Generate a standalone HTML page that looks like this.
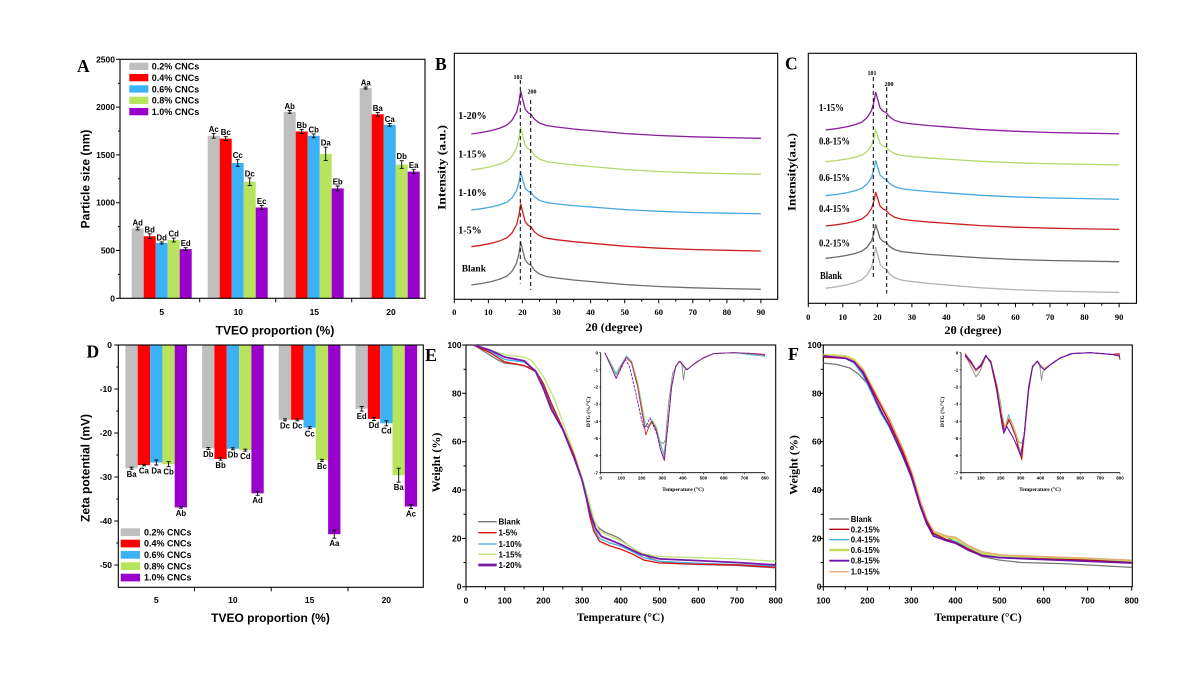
<!DOCTYPE html>
<html><head><meta charset="utf-8"><style>
html,body{margin:0;padding:0;background:#fff}
svg{display:block}
.s{font-family:"Liberation Sans",sans-serif;font-weight:bold}
.r{font-family:"Liberation Serif",serif;font-weight:bold}
.ns path,.ns polyline{vector-effect:non-scaling-stroke;fill:none}
</style></head><body>
<svg width="1200" height="675" viewBox="0 0 1200 675" xmlns="http://www.w3.org/2000/svg">
<defs>
<path id="x" fill="none" style="vector-effect:non-scaling-stroke" d="M0,0 L10.2,-1.5 L20.4,-3.5 L29,-6 L35.8,-9 L40.9,-14 L45.3,-22 L47.7,-32 L49.4,-43 L51.1,-36 L53.8,-25 L57.2,-21 L59.6,-20 L63,-15 L68.1,-11 L75,-8.5 L85.2,-7 L102.2,-5 L119.2,-3.5 L136.3,-2 L153.3,-0.5 L187.4,1.5 L221.5,2.8 L255.6,3.6 L289.6,4.3"/>
</defs>
<rect width="1200" height="675" fill="#fff"/>

<!-- ================= PANEL A ================= -->
<text class="r" x="77" y="72" font-size="17.5">A</text>
<g>
<rect x="131.7" y="228.5" width="12" height="69.8" fill="#bfbfbf"/>
<rect x="143.7" y="236.2" width="12" height="62.1" fill="#ff0000"/>
<rect x="155.7" y="242.9" width="12" height="55.4" fill="#3db1f5"/>
<rect x="167.7" y="240.0" width="12" height="58.3" fill="#b8e35c"/>
<rect x="179.7" y="249.1" width="12" height="49.2" fill="#9900cc"/>
<rect x="207.7" y="135.8" width="12" height="162.5" fill="#bfbfbf"/>
<rect x="219.7" y="138.6" width="12" height="159.7" fill="#ff0000"/>
<rect x="231.7" y="163.0" width="12" height="135.3" fill="#3db1f5"/>
<rect x="243.7" y="181.7" width="12" height="116.6" fill="#b8e35c"/>
<rect x="255.7" y="207.5" width="12" height="90.8" fill="#9900cc"/>
<rect x="283.7" y="111.9" width="12" height="186.4" fill="#bfbfbf"/>
<rect x="295.7" y="131.5" width="12" height="166.8" fill="#ff0000"/>
<rect x="307.7" y="135.8" width="12" height="162.5" fill="#3db1f5"/>
<rect x="319.7" y="153.9" width="12" height="144.4" fill="#b8e35c"/>
<rect x="331.7" y="188.4" width="12" height="109.9" fill="#9900cc"/>
<rect x="359.7" y="88.0" width="12" height="210.3" fill="#bfbfbf"/>
<rect x="371.7" y="114.3" width="12" height="184" fill="#ff0000"/>
<rect x="383.7" y="124.8" width="12" height="173.5" fill="#3db1f5"/>
<rect x="395.7" y="164.5" width="12" height="133.8" fill="#b8e35c"/>
<rect x="407.7" y="171.6" width="12" height="126.7" fill="#9900cc"/>
</g>
<path stroke="#000" stroke-width="0.9" fill="none" d="
M137.7,227.1V229.9M135.7,227.1h4M135.7,229.9h4
M149.7,233.8V238.6M147.7,233.8h4M147.7,238.6h4
M161.7,241.9V243.9M159.7,241.9h4M159.7,243.9h4
M173.7,238.1V241.9M171.7,238.1h4M171.7,241.9h4
M185.7,247.7V250.5M183.7,247.7h4M183.7,250.5h4
M213.7,133.4V138.2M211.7,133.4h4M211.7,138.2h4
M225.7,136.7V140.5M223.7,136.7h4M223.7,140.5h4
M237.7,159.7V166.3M235.7,159.7h4M235.7,166.3h4
M249.7,177.9V185.5M247.7,177.9h4M247.7,185.5h4
M261.7,205.6V209.4M259.7,205.6h4M259.7,209.4h4
M289.7,110.5V113.3M287.7,110.5h4M287.7,113.3h4
M301.7,129.6V133.4M299.7,129.6h4M299.7,133.4h4
M313.7,133.9V137.7M311.7,133.9h4M311.7,137.7h4
M325.7,147.2V160.6M323.7,147.2h4M323.7,160.6h4
M337.7,186V190.8M335.7,186h4M335.7,190.8h4
M365.7,87V89M363.7,87h4M363.7,89h4
M377.7,112.4V116.2M375.7,112.4h4M375.7,116.2h4
M389.7,123.4V126.2M387.7,123.4h4M387.7,126.2h4
M401.7,160.7V168.3M399.7,160.7h4M399.7,168.3h4
M413.7,169.7V173.5M411.7,169.7h4M411.7,173.5h4"/>
<g class="s" font-size="7.8" text-anchor="middle" fill="#000">
<text x="137.7" y="225.6">Ad</text><text x="149.7" y="232.3">Bd</text><text x="161.7" y="240.4">Dd</text><text x="173.7" y="236.6">Cd</text><text x="185.7" y="246.2">Ed</text>
<text x="213.7" y="131.9">Ac</text><text x="225.7" y="135.2">Bc</text><text x="237.7" y="158.2">Cc</text><text x="249.7" y="176.4">Dc</text><text x="261.7" y="204.1">Ec</text>
<text x="289.7" y="109">Ab</text><text x="301.7" y="128.1">Bb</text><text x="313.7" y="132.4">Cb</text><text x="325.7" y="145.7">Da</text><text x="337.7" y="184.5">Eb</text>
<text x="365.7" y="85.5">Aa</text><text x="377.7" y="110.9">Ba</text><text x="389.7" y="121.9">Ca</text><text x="401.7" y="159.2">Db</text><text x="413.7" y="168.2">Ea</text>
</g>
<rect x="120" y="59.3" width="305" height="239" fill="none" stroke="#000" stroke-width="1.1"/>
<path stroke="#000" stroke-width="1" d="M116,298.3h4M116,250.5h4M116,202.7h4M116,154.9h4M116,107.1h4M116,59.3h4M118,274.4h2M118,226.6h2M118,178.8h2M118,131h2M118,83.2h2M199.7,298.3v4M275.7,298.3v4M351.7,298.3v4"/>
<g class="s" font-size="8.5" text-anchor="end">
<text x="115" y="301.3">0</text><text x="115" y="253.5">500</text><text x="115" y="205.7">1000</text><text x="115" y="157.9">1500</text><text x="115" y="110.1">2000</text><text x="115" y="62.3">2500</text>
</g>
<g class="s" font-size="8.5" text-anchor="middle">
<text x="161.7" y="315">5</text><text x="238.3" y="315">10</text><text x="314.3" y="315">15</text><text x="391" y="315">20</text>
</g>
<g class="s" font-size="9">
<rect x="129.3" y="62.7" width="19" height="7.3" fill="#bfbfbf"/><text x="151.7" y="69.7">0.2% CNCs</text>
<rect x="129.3" y="74" width="19" height="7.3" fill="#ff0000"/><text x="151.7" y="81">0.4% CNCs</text>
<rect x="129.3" y="85.3" width="19" height="7.3" fill="#3db1f5"/><text x="151.7" y="92.3">0.6% CNCs</text>
<rect x="129.3" y="96.7" width="19" height="7.3" fill="#b8e35c"/><text x="151.7" y="103.7">0.8% CNCs</text>
<rect x="129.3" y="108" width="19" height="7.3" fill="#9900cc"/><text x="151.7" y="115">1.0% CNCs</text>
</g>
<text class="s" font-size="12" text-anchor="middle" transform="translate(89.5,179) rotate(-90)">Particle size (nm)</text>
<text class="s" font-size="12" text-anchor="middle" x="275" y="334.5">TVEO proportion (%)</text>

<!-- ================= PANEL B ================= -->
<text class="r" x="435" y="70" font-size="17.5">B</text>
<rect x="454.3" y="53.3" width="323.4" height="246" fill="none" stroke="#000" stroke-width="1.1"/>
<path stroke="#000" stroke-width="1" d="M454.3,299.3v4M488.4,299.3v4M522.4,299.3v4M556.5,299.3v4M590.6,299.3v4M624.7,299.3v4M658.7,299.3v4M692.8,299.3v4M726.9,299.3v4M760.9,299.3v4M471.3,299.3v2.5M505.4,299.3v2.5M539.5,299.3v2.5M573.6,299.3v2.5M607.6,299.3v2.5M641.7,299.3v2.5M675.8,299.3v2.5M709.8,299.3v2.5M743.9,299.3v2.5"/>
<g class="r" font-size="8.5" text-anchor="middle">
<text x="454.3" y="315">0</text><text x="488.4" y="315">10</text><text x="522.4" y="315">20</text><text x="556.5" y="315">30</text><text x="590.6" y="315">40</text><text x="624.7" y="315">50</text><text x="658.7" y="315">60</text><text x="692.8" y="315">70</text><text x="726.9" y="315">80</text><text x="760.9" y="315">90</text>
</g>
<g stroke-width="1.3">
<use href="#x" transform="translate(471.3,285)" stroke="#6f6f6f"/>
<use href="#x" transform="translate(471.3,246.7)" stroke="#cc1f1f"/>
<use href="#x" transform="translate(471.3,210) scale(1,0.88)" stroke="#47a9de"/>
<use href="#x" transform="translate(471.3,170)" stroke="#b6d86c"/>
<use href="#x" transform="translate(471.3,134)" stroke="#8a1e9c"/>
</g>
<path stroke="#000" stroke-width="1" stroke-dasharray="4,3" d="M520.3,80V283.5M530.7,100V290"/>
<g class="r" font-size="6" text-anchor="middle"><text x="518" y="79">101</text><text x="532" y="93.5">200</text></g>
<g class="r" font-size="10">
<text x="458.3" y="119">1-20%</text><text x="458.3" y="157.5">1-15%</text><text x="458.3" y="196">1-10%</text><text x="458.3" y="233.5">1-5%</text><text x="461.7" y="271.7" font-size="9.5">Blank</text>
</g>
<text class="r" font-size="12" text-anchor="middle" textLength="85" lengthAdjust="spacingAndGlyphs" transform="translate(445.5,167.5) rotate(-90)">Intensity (a.u.)</text>
<text class="r" font-size="12" text-anchor="middle" x="614" y="331">2θ (degree)</text>

<!-- ================= PANEL C ================= -->
<text class="r" x="785" y="69.5" font-size="17.5">C</text>
<rect x="808.3" y="53.3" width="328.2" height="250" fill="none" stroke="#000" stroke-width="1.1"/>
<path stroke="#000" stroke-width="1" d="M808.3,303.3v4M842.8,303.3v4M877.4,303.3v4M911.9,303.3v4M946.4,303.3v4M981,303.3v4M1015.5,303.3v4M1050,303.3v4M1084.5,303.3v4M1119.1,303.3v4M825.6,303.3v2.5M860.1,303.3v2.5M894.6,303.3v2.5M929.2,303.3v2.5M963.7,303.3v2.5M998.2,303.3v2.5M1032.8,303.3v2.5M1067.3,303.3v2.5M1101.8,303.3v2.5"/>
<g class="r" font-size="8.5" text-anchor="middle">
<text x="808.3" y="320">0</text><text x="842.8" y="320">10</text><text x="877.4" y="320">20</text><text x="911.9" y="320">30</text><text x="946.4" y="320">40</text><text x="981" y="320">50</text><text x="1015.5" y="320">60</text><text x="1050" y="320">70</text><text x="1084.5" y="320">80</text><text x="1119.1" y="320">90</text>
</g>
<g stroke-width="1.3">
<use href="#x" transform="translate(825.6,288.3) scale(1.0135,0.96)" stroke="#b3b3b3"/>
<use href="#x" transform="translate(825.6,258.3) scale(1.0135,0.79)" stroke="#676767"/>
<use href="#x" transform="translate(825.6,226) scale(1.0135,0.79)" stroke="#cc1f1f"/>
<use href="#x" transform="translate(825.6,195.7) scale(1.0135,0.82)" stroke="#47a9de"/>
<use href="#x" transform="translate(825.6,161.7) scale(1.0135,0.73)" stroke="#b6d86c"/>
<use href="#x" transform="translate(825.6,130) scale(1.0135,0.88)" stroke="#8a1e9c"/>
</g>
<path stroke="#000" stroke-width="1" stroke-dasharray="4,3" d="M873.3,77V278.5M886.7,87V293.5"/>
<g class="r" font-size="6" text-anchor="middle"><text x="872" y="75">101</text><text x="889" y="86">200</text></g>
<g class="r" font-size="10">
<text x="819" y="111" textLength="25" lengthAdjust="spacingAndGlyphs">1-15%</text>
<text x="819" y="144.5" textLength="31" lengthAdjust="spacingAndGlyphs">0.8-15%</text>
<text x="819" y="181" textLength="31" lengthAdjust="spacingAndGlyphs">0.6-15%</text>
<text x="819" y="212" textLength="31" lengthAdjust="spacingAndGlyphs">0.4-15%</text>
<text x="819" y="246.5" textLength="31" lengthAdjust="spacingAndGlyphs">0.2-15%</text>
<text x="820" y="279" textLength="22" lengthAdjust="spacingAndGlyphs">Blank</text>
</g>
<text class="r" font-size="12" text-anchor="middle" textLength="78" lengthAdjust="spacingAndGlyphs" transform="translate(795.5,172) rotate(-90)">Intensity(a.u.)</text>
<text class="r" font-size="12" text-anchor="middle" x="973" y="334">2θ (degree)</text>

<!-- ================= PANEL D ================= -->
<text class="r" x="86.5" y="357.7" font-size="17.5">D</text>
<g>
<rect x="125.4" y="345" width="12.33" height="123.2" fill="#bfbfbf"/>
<rect x="137.7" y="345" width="12.33" height="120.1" fill="#ff0000"/>
<rect x="150.1" y="345" width="12.33" height="117.5" fill="#3db1f5"/>
<rect x="162.4" y="345" width="12.33" height="119.2" fill="#b8e35c"/>
<rect x="174.7" y="345" width="12.33" height="162.4" fill="#9900cc"/>
<rect x="202.1" y="345" width="12.33" height="103.4" fill="#bfbfbf"/>
<rect x="214.4" y="345" width="12.33" height="114" fill="#ff0000"/>
<rect x="226.8" y="345" width="12.33" height="103.8" fill="#3db1f5"/>
<rect x="239.1" y="345" width="12.33" height="105.2" fill="#b8e35c"/>
<rect x="251.4" y="345" width="12.33" height="148.3" fill="#9900cc"/>
<rect x="278.8" y="345" width="12.33" height="74.8" fill="#bfbfbf"/>
<rect x="291.1" y="345" width="12.33" height="74.8" fill="#ff0000"/>
<rect x="303.5" y="345" width="12.33" height="82.7" fill="#3db1f5"/>
<rect x="315.8" y="345" width="12.33" height="115.3" fill="#b8e35c"/>
<rect x="328.1" y="345" width="12.33" height="189.2" fill="#9900cc"/>
<rect x="355.5" y="345" width="12.33" height="63.8" fill="#bfbfbf"/>
<rect x="367.8" y="345" width="12.33" height="73.9" fill="#ff0000"/>
<rect x="380.2" y="345" width="12.33" height="78.3" fill="#3db1f5"/>
<rect x="392.5" y="345" width="12.33" height="130.2" fill="#b8e35c"/>
<rect x="404.8" y="345" width="12.33" height="161.5" fill="#9900cc"/>
</g>
<path stroke="#000" stroke-width="0.9" fill="none" d="
M131.6,467.2V469.2M129.6,467.2h4M129.6,469.2h4
M143.9,464.3V465.9M141.9,464.3h4M141.9,465.9h4
M156.3,460V465M154.3,460h4M154.3,465h4
M168.6,461.7V466.7M166.6,461.7h4M166.6,466.7h4
M180.9,506.6V508.2M178.9,506.6h4M178.9,508.2h4
M208.3,447.4V449.4M206.3,447.4h4M206.3,449.4h4
M220.6,457.8V460.2M218.6,457.8h4M218.6,460.2h4
M232.9,447.8V449.8M230.9,447.8h4M230.9,449.8h4
M245.3,449.2V451.2M243.3,449.2h4M243.3,451.2h4
M257.6,491.3V495.3M255.6,491.3h4M255.6,495.3h4
M285,418.8V420.8M283,418.8h4M283,420.8h4
M297.3,418.8V420.8M295.3,418.8h4M295.3,420.8h4
M309.7,426.7V428.7M307.7,426.7h4M307.7,428.7h4
M322,459.3V461.3M320,459.3h4M320,461.3h4
M334.3,530.2V538.2M332.3,530.2h4M332.3,538.2h4
M361.7,406.5V411.1M359.7,406.5h4M359.7,411.1h4
M374,417.4V420.4M372,417.4h4M372,420.4h4
M386.4,420.8V425.8M384.4,420.8h4M384.4,425.8h4
M398.7,468.2V482.2M396.7,468.2h4M396.7,482.2h4
M411,504.5V508.5M409,504.5h4M409,508.5h4"/>
<g class="s" font-size="7.8" text-anchor="middle">
<text x="131.6" y="477">Ba</text><text x="143.9" y="473.7">Ca</text><text x="156.3" y="473.3">Da</text><text x="168.6" y="474.5">Cb</text><text x="180.9" y="516">Ab</text>
<text x="208.3" y="457.2">Db</text><text x="220.6" y="468">Bb</text><text x="232.9" y="457.6">Db</text><text x="245.3" y="459">Cd</text><text x="257.6" y="503.1">Ad</text>
<text x="285" y="428.6">Dc</text><text x="297.3" y="428.6">Dc</text><text x="309.7" y="436.5">Cc</text><text x="322" y="469.1">Bc</text><text x="334.3" y="546">Aa</text>
<text x="361.7" y="418.9">Ed</text><text x="374" y="428.2">Dd</text><text x="386.4" y="433.6">Cd</text><text x="398.7" y="490">Ba</text><text x="411" y="516.3">Ac</text>
</g>
<rect x="118.3" y="345" width="305" height="242.3" fill="none" stroke="#000" stroke-width="1.1"/>
<path stroke="#000" stroke-width="1" d="M114.3,345h4M114.3,389h4M114.3,433h4M114.3,477h4M114.3,521h4M114.3,565h4M116.3,367h2M116.3,411h2M116.3,455h2M116.3,499h2M116.3,543h2M194.5,587.3v4M271.2,587.3v4M348,587.3v4"/>
<g class="s" font-size="8.5" text-anchor="end">
<text x="112" y="348">0</text><text x="112" y="392">-10</text><text x="112" y="436">-20</text><text x="112" y="480">-30</text><text x="112" y="524">-40</text><text x="112" y="568">-50</text>
</g>
<g class="s" font-size="8.5" text-anchor="middle">
<text x="156.2" y="603">5</text><text x="232.9" y="603">10</text><text x="309.6" y="603">15</text><text x="386.3" y="603">20</text>
</g>
<g class="s" font-size="9">
<rect x="120.7" y="528.3" width="19.3" height="7.7" fill="#bfbfbf"/><text x="144" y="535.3">0.2% CNCs</text>
<rect x="120.7" y="539.7" width="19.3" height="7.7" fill="#ff0000"/><text x="144" y="546.7">0.4% CNCs</text>
<rect x="120.7" y="551" width="19.3" height="7.7" fill="#3db1f5"/><text x="144" y="558">0.6% CNCs</text>
<rect x="120.7" y="562.3" width="19.3" height="7.7" fill="#b8e35c"/><text x="144" y="569.3">0.8% CNCs</text>
<rect x="120.7" y="573.7" width="19.3" height="7.7" fill="#9900cc"/><text x="144" y="580.7">1.0% CNCs</text>
</g>
<text class="s" font-size="12" text-anchor="middle" transform="translate(89.5,468) rotate(-90)">Zeta potential (mV)</text>
<text class="s" font-size="12" text-anchor="middle" x="270.5" y="622">TVEO proportion (%)</text>

<!-- ================= PANEL E ================= -->
<text class="r" x="425" y="361" font-size="18">E</text>
<rect x="466" y="345" width="309.7" height="241.7" fill="none" stroke="#000" stroke-width="1.1"/>
<path stroke="#000" stroke-width="1" d="M466,586.7v4M504.7,586.7v4M543.4,586.7v4M582.1,586.7v4M620.8,586.7v4M659.6,586.7v4M698.3,586.7v4M737,586.7v4M775.7,586.7v4M485.4,586.7v2.5M524.1,586.7v2.5M562.8,586.7v2.5M601.5,586.7v2.5M640.2,586.7v2.5M678.9,586.7v2.5M717.6,586.7v2.5M756.3,586.7v2.5M462,586.7h4M462,538.4h4M462,490h4M462,441.7h4M462,393.3h4M462,345h4M463.5,562.5h2.5M463.5,514.2h2.5M463.5,465.9h2.5M463.5,417.5h2.5M463.5,369.2h2.5"/>
<g class="s" font-size="8.5" text-anchor="end">
<text x="461.5" y="589.7">0</text><text x="461.5" y="541.4">20</text><text x="461.5" y="493">40</text><text x="461.5" y="444.7">60</text><text x="461.5" y="396.3">80</text><text x="461.5" y="348">100</text>
</g>
<g class="s" font-size="8.5" text-anchor="middle">
<text x="466" y="603.7">0</text><text x="504.7" y="603.7">100</text><text x="543.4" y="603.7">200</text><text x="582.1" y="603.7">300</text><text x="620.8" y="603.7">400</text><text x="659.6" y="603.7">500</text><text x="698.3" y="603.7">600</text><text x="737" y="603.7">700</text><text x="775.7" y="603.7">800</text>
</g>
<g class="ns" transform="matrix(0.3871 0 0 -2.417 466 586.7)" stroke-width="1.3" stroke-linejoin="round">
<path stroke="#777777" d="M20,100 L50,97 L80,94 L100,92.5 L130,92 L160,91 L180,89 L200,83 L220,75 L250,65 L280,53 L300,44 L310,38 L320,32 L330,27 L345,24 L360,22.5 L390,20.5 L400,19.5 L420,17 L450,14 L480,11.5 L500,10.5 L550,9.5 L600,9.2 L700,8.8 L800,7.8"/>
<path stroke="#45b0dc" d="M20,100 L60,97.5 L100,94 L150,93 L180,89.5 L200,84 L220,76 L250,65.5 L280,54 L300,44 L310,37.5 L320,30 L330,24 L345,20 L370,18.2 L400,16.8 L430,14.5 L460,12 L500,10.5 L600,9.7 L700,9.2 L800,8.5"/>
<path stroke="#bde37a" d="M20,100 L60,98 L100,96 L150,95 L170,93.5 L200,87 L230,77 L250,68 L280,55 L300,45 L315,37 L330,28 L345,23 L370,21 L400,19 L430,16 L460,13.5 L500,12.5 L600,12 L700,11.5 L800,10.5"/>
<path stroke="#e01010" d="M20,100 L60,97 L100,93 L150,91.5 L180,89 L200,84 L220,76 L250,65.5 L280,54 L300,44 L310,37 L320,29 L330,23 L345,18.8 L370,17 L400,15.5 L430,13.5 L460,11 L500,9.8 L600,9.3 L700,9 L800,8"/>
<path stroke="#7a1aa8" stroke-width="1.8" d="M20,100 L60,98 L100,95 L150,93.5 L180,89 L200,82 L220,73.5 L250,65 L280,53 L300,44 L310,37.5 L320,30.5 L335,24 L350,20.8 L400,17.5 L450,13.5 L500,11.5 L600,10.8 L700,10 L800,9"/>
</g>
<g stroke-width="1.3">
<path stroke="#777777" d="M478.3,521.7H496.7"/>
<path stroke="#e01010" d="M478.3,532.7H496.7"/>
<path stroke="#45b0dc" d="M478.3,544H496.7"/>
<path stroke="#bde37a" d="M478.3,554.3H496.7"/>
<path stroke="#7a1aa8" stroke-width="2.8" d="M478.3,565H496.7"/>
</g>
<g class="s" font-size="8">
<text x="498.5" y="524.7">Blank</text><text x="498.5" y="535.7">1-5%</text><text x="498.5" y="547">1-10%</text><text x="498.5" y="557.3">1-15%</text><text x="498.5" y="568">1-20%</text>
</g>
<text class="r" font-size="12" text-anchor="middle" transform="translate(440,462.5) rotate(-90)">Weight (%)</text>
<text class="r" font-size="11.5" text-anchor="middle" x="620.5" y="621">Temperature (°C)</text>
<!-- E inset -->
<path stroke="#000" stroke-width="0.8" fill="none" d="M600.7,352.7V472.7H765"/>
<path stroke="#000" stroke-width="0.6" d="M600.7,472.7v1.5M621.2,472.7v1.5M641.8,472.7v1.5M662.3,472.7v1.5M682.9,472.7v1.5M703.4,472.7v1.5M723.9,472.7v1.5M744.5,472.7v1.5M765,472.7v1.5M599.2,352.7h1.5M599.2,369.8h1.5M599.2,387h1.5M599.2,404.1h1.5M599.2,421.3h1.5M599.2,438.4h1.5M599.2,455.5h1.5M599.2,472.7h1.5"/>
<g class="s" font-size="4.5" text-anchor="end" font-weight="normal">
<text x="598" y="354.3">0</text><text x="598" y="371.4">-1</text><text x="598" y="388.6">-2</text><text x="598" y="405.7">-3</text><text x="598" y="422.9">-4</text><text x="598" y="440">-5</text><text x="598" y="457.1">-6</text><text x="598" y="474.3">-7</text>
</g>
<g class="s" font-size="4.5" text-anchor="middle">
<text x="600.7" y="479.5">0</text><text x="621.2" y="479.5">100</text><text x="641.8" y="479.5">200</text><text x="662.3" y="479.5">300</text><text x="682.9" y="479.5">400</text><text x="703.4" y="479.5">500</text><text x="723.9" y="479.5">600</text><text x="744.5" y="479.5">700</text><text x="765" y="479.5">800</text>
</g>
<text class="r" font-size="5.5" text-anchor="middle" x="683" y="491" font-weight="normal">Temperature (°C)</text>
<text class="r" font-size="5.5" text-anchor="middle" font-weight="normal" transform="translate(590,412) rotate(-90)">DTG (%/°C)</text>
<g class="ns" transform="matrix(0.2054 0 0 -17.14 600.7 352.7)" stroke-width="0.9" stroke-linejoin="round">
<path stroke="#8a8a8a" d="M20,0 L50,-0.7 L75,-1.2 L95,-0.8 L125,-0.2 L150,-0.5 L180,-1.8 L200,-3 L215,-4.3 L230,-4.3 L250,-4.1 L270,-4.4 L290,-5.2 L305,-5.3 L315,-5.1 L330,-3 L350,-1.2 L380,-0.5 L395,-0.6 L403,-1.6 L410,-1 L430,-0.9 L470,-0.5 L550,-0.05 L650,0 L750,-0.1 L800,-0.1"/>
<path stroke="#a8d868" d="M20,0 L50,-0.6 L75,-1.2 L100,-0.7 L125,-0.2 L150,-0.5 L180,-1.7 L200,-3 L217,-4.1 L233,-4.2 L250,-3.9 L270,-4.3 L290,-5.2 L307,-5.9 L325,-4.5 L345,-2 L365,-0.8 L385,-0.5 L400,-0.8 L420,-1 L450,-0.7 L500,-0.3 L550,-0.05 L650,0 L750,-0.15 L800,-0.2"/>
<path stroke="#50b0d8" d="M20,0 L50,-0.7 L75,-1.3 L100,-0.7 L125,-0.2 L150,-0.5 L180,-1.9 L200,-3.2 L215,-4.2 L232,-4.4 L250,-4.0 L270,-4.4 L290,-5.3 L308,-6.0 L325,-4.5 L345,-2 L365,-0.8 L385,-0.5 L400,-0.8 L420,-1 L450,-0.7 L500,-0.3 L550,-0.05 L650,0 L750,-0.15 L800,-0.2"/>
<path stroke="#d82020" d="M20,0 L50,-0.8 L75,-1.5 L100,-0.8 L125,-0.3 L150,-0.6 L180,-2 L200,-3.4 L220,-4.8 L235,-4.3 L250,-4.0 L270,-4.5 L290,-5.6 L310,-6.3 L325,-4.5 L345,-2 L365,-0.8 L385,-0.5 L400,-0.7 L420,-1 L450,-0.7 L500,-0.3 L550,-0.05 L650,0 L750,-0.05 L800,-0.1"/>
<path stroke="#7020c0" stroke-dasharray="3,1" d="M20,0 L50,-0.8 L75,-1.5 L100,-0.9 L120,-0.4 L140,-0.8 L170,-2.3 L195,-3.7 L210,-4.4 L225,-4.2 L240,-3.8 L255,-4.2 L275,-4.8 L295,-5.8 L310,-6.2 L325,-4.5 L345,-2 L365,-0.8 L385,-0.5 L400,-0.7 L420,-1 L450,-0.7 L500,-0.3 L550,-0.05 L650,0 L750,-0.05 L800,-0.15"/>
</g>

<!-- ================= PANEL F ================= -->
<text class="r" x="788" y="360" font-size="18">F</text>
<rect x="823.3" y="345" width="309" height="241.7" fill="none" stroke="#000" stroke-width="1.1"/>
<path stroke="#000" stroke-width="1" d="M823.3,586.7v4M867.4,586.7v4M911.4,586.7v4M955.5,586.7v4M999.5,586.7v4M1043.6,586.7v4M1087.6,586.7v4M1131.7,586.7v4M845.3,586.7v2.5M889.4,586.7v2.5M933.4,586.7v2.5M977.5,586.7v2.5M1021.5,586.7v2.5M1065.6,586.7v2.5M1109.6,586.7v2.5M819.3,586.7h4M819.3,538.4h4M819.3,490h4M819.3,441.7h4M819.3,393.3h4M819.3,345h4M820.8,562.5h2.5M820.8,514.2h2.5M820.8,465.9h2.5M820.8,417.5h2.5M820.8,369.2h2.5"/>
<g class="s" font-size="8.5" text-anchor="end">
<text x="821.5" y="589.7">0</text><text x="821.5" y="541.4">20</text><text x="821.5" y="493">40</text><text x="821.5" y="444.7">60</text><text x="821.5" y="396.3">80</text><text x="821.5" y="348">100</text>
</g>
<g class="s" font-size="8.5" text-anchor="middle">
<text x="823.3" y="603.7">100</text><text x="867.4" y="603.7">200</text><text x="911.4" y="603.7">300</text><text x="955.5" y="603.7">400</text><text x="999.5" y="603.7">500</text><text x="1043.6" y="603.7">600</text><text x="1087.6" y="603.7">700</text><text x="1131.7" y="603.7">800</text>
</g>
<g class="ns" transform="matrix(0.4405 0 0 -2.417 779.25 586.7)" stroke-width="1.3" stroke-linejoin="round">
<path stroke="#777777" d="M100,92.5 L130,92 L160,90.5 L180,88 L200,84 L220,77 L250,66 L280,54 L300,45 L320,33 L335,26 L350,22.5 L380,20.5 L400,18.5 L430,15.5 L460,12.5 L500,11 L550,10 L650,9.5 L800,8"/>
<path stroke="#45b0dc" d="M100,95.5 L150,94.5 L170,92.5 L190,87.5 L210,80 L230,72 L250,66 L280,54 L300,45.5 L320,33.5 L335,26 L350,21.5 L380,19.5 L400,18.8 L430,16 L460,13.5 L500,12.5 L600,12 L700,11.3 L800,10.5"/>
<path stroke="#c8dd5a" stroke-width="1.8" d="M100,96 L150,95.5 L170,94 L190,90 L210,83 L230,76 L250,68.5 L280,56.5 L300,47 L320,35 L335,27.5 L350,22.5 L380,20.5 L400,19.8 L430,16.5 L460,13.8 L500,12.8 L600,12.2 L700,11.6 L800,10.8"/>
<path stroke="#e8a878" d="M100,95.5 L150,95 L170,93.5 L190,90 L210,83 L230,76 L250,69.5 L280,57.5 L300,48 L320,36 L335,28 L350,23 L380,21 L400,20.5 L430,17 L460,14.5 L500,13.2 L600,12.5 L700,11.8 L800,11"/>
<path stroke="#c00010" d="M100,95 L150,94.5 L170,93 L190,89 L210,82 L230,75 L250,68 L280,56 L300,46.5 L320,34 L335,27 L350,22 L380,19.5 L400,18.3 L430,15.5 L460,13 L500,12 L600,11.5 L700,11 L800,10"/>
<path stroke="#7010b0" stroke-width="1.6" d="M100,95.5 L150,94.5 L170,93 L190,88.5 L210,81 L230,73 L250,66.5 L280,54.5 L300,45.5 L320,33.5 L335,26 L350,21 L380,19 L400,18 L430,15 L460,12.8 L500,12 L600,11.2 L700,10.5 L800,9.8"/>
</g>
<g stroke-width="1.3">
<path stroke="#777777" d="M829.3,519H849.3"/>
<path stroke="#c00010" d="M829.3,529.3H849.3"/>
<path stroke="#45b0dc" d="M829.3,539.7H849.3"/>
<path stroke="#c8dd5a" stroke-width="2.6" d="M829.3,550H849.3"/>
<path stroke="#7010b0" stroke-width="1.8" d="M829.3,560.7H849.3"/>
<path stroke="#e8a878" d="M829.3,571.7H849.3"/>
</g>
<g class="s" font-size="7.8">
<text x="850.7" y="522">Blank</text><text x="850.7" y="532.3">0.2-15%</text><text x="850.7" y="542.7">0.4-15%</text><text x="850.7" y="553">0.6-15%</text><text x="850.7" y="563.7">0.8-15%</text><text x="850.7" y="574.7">1.0-15%</text>
</g>
<text class="r" font-size="12" text-anchor="middle" transform="translate(797.5,465) rotate(-90)">Weight (%)</text>
<text class="r" font-size="11.5" text-anchor="middle" x="978" y="621">Temperature (°C)</text>
<!-- F inset -->
<path stroke="#000" stroke-width="0.8" fill="none" d="M961,352.7V472.7H1120"/>
<path stroke="#000" stroke-width="0.6" d="M961,472.7v1.5M980.9,472.7v1.5M1000.8,472.7v1.5M1020.6,472.7v1.5M1040.5,472.7v1.5M1060.4,472.7v1.5M1080.3,472.7v1.5M1100.1,472.7v1.5M1120,472.7v1.5M959.5,352.7h1.5M959.5,369.8h1.5M959.5,387h1.5M959.5,404.1h1.5M959.5,421.3h1.5M959.5,438.4h1.5M959.5,455.5h1.5M959.5,472.7h1.5"/>
<g class="s" font-size="4.5" text-anchor="end" font-weight="normal">
<text x="958.3" y="354.3">0</text><text x="958.3" y="371.4">-1</text><text x="958.3" y="388.6">-2</text><text x="958.3" y="405.7">-3</text><text x="958.3" y="422.9">-4</text><text x="958.3" y="440">-5</text><text x="958.3" y="457.1">-6</text><text x="958.3" y="474.3">-7</text>
</g>
<g class="s" font-size="4.5" text-anchor="middle">
<text x="961" y="479.5">0</text><text x="980.9" y="479.5">100</text><text x="1000.8" y="479.5">200</text><text x="1020.6" y="479.5">300</text><text x="1040.5" y="479.5">400</text><text x="1060.4" y="479.5">500</text><text x="1080.3" y="479.5">600</text><text x="1100.1" y="479.5">700</text><text x="1120" y="479.5">800</text>
</g>
<text class="r" font-size="5.5" text-anchor="middle" x="1040" y="491" font-weight="normal">Temperature (°C)</text>
<text class="r" font-size="5.5" text-anchor="middle" font-weight="normal" transform="translate(944,412) rotate(-90)">DTG (%/°C)</text>
<g class="ns" transform="matrix(0.19875 0 0 -17.14 961 352.7)" stroke-width="0.9" stroke-linejoin="round">
<path stroke="#8a8a8a" d="M20,-0.1 L50,-0.8 L75,-1.4 L95,-1.1 L125,-0.2 L150,-0.5 L180,-1.8 L200,-3 L215,-4.3 L232,-4.2 L250,-3.9 L270,-4.5 L290,-5.2 L305,-5.3 L318,-4.8 L335,-2.5 L355,-1 L380,-0.5 L395,-0.6 L405,-1.6 L412,-1.1 L430,-0.9 L470,-0.5 L550,-0.05 L650,0 L750,-0.1 L795,-0.1 L800,-0.4"/>
<path stroke="#50b0d8" d="M20,0 L50,-0.6 L75,-1.0 L100,-0.7 L125,-0.2 L150,-0.6 L170,-1.6 L190,-3 L210,-4.5 L225,-4.2 L240,-3.6 L255,-4.2 L275,-4.8 L295,-5.6 L305,-6.0 L320,-4.5 L340,-2 L360,-0.8 L385,-0.5 L400,-0.8 L420,-1 L450,-0.7 L500,-0.3 L560,-0.05 L650,0 L760,-0.1 L800,-0.2"/>
<path stroke="#c0d858" d="M20,0 L50,-0.6 L75,-1.1 L100,-0.8 L125,-0.2 L150,-0.5 L180,-1.8 L200,-3.2 L220,-4.3 L240,-3.9 L255,-4.1 L275,-4.7 L295,-5.6 L307,-6.1 L322,-4.6 L342,-2 L362,-0.8 L385,-0.5 L400,-0.7 L420,-0.9 L450,-0.7 L500,-0.3 L560,-0.05 L650,0 L760,-0.1 L800,-0.15"/>
<path stroke="#e8a878" d="M20,0 L50,-0.6 L75,-1.1 L100,-0.8 L125,-0.2 L150,-0.5 L180,-1.9 L200,-3.3 L220,-4.4 L240,-3.8 L255,-4.1 L275,-4.8 L295,-5.7 L307,-6.3 L322,-4.6 L342,-2 L362,-0.8 L385,-0.5 L400,-0.7 L420,-0.9 L450,-0.7 L500,-0.3 L560,-0.05 L650,0 L760,-0.1 L800,-0.15"/>
<path stroke="#c00010" d="M20,-0.2 L50,-0.6 L75,-1.0 L100,-0.8 L125,-0.2 L150,-0.5 L180,-2 L200,-3.5 L220,-4.6 L240,-3.9 L255,-4.3 L275,-4.9 L290,-5.6 L305,-6.2 L320,-4.5 L340,-2 L360,-0.8 L385,-0.5 L400,-0.8 L420,-1 L450,-0.7 L500,-0.3 L560,-0.05 L650,0 L760,-0.1 L795,-0.05 L800,-0.4"/>
<path stroke="#7010b0" stroke-width="1.1" d="M20,-0.1 L50,-0.5 L75,-1.0 L100,-0.7 L125,-0.15 L150,-0.6 L180,-2.2 L200,-3.7 L215,-4.7 L230,-4.3 L245,-4.6 L260,-4.9 L280,-5.4 L300,-6.0 L318,-4.8 L340,-2.2 L360,-0.8 L385,-0.5 L400,-0.8 L420,-1 L450,-0.7 L500,-0.3 L560,-0.05 L650,0 L760,-0.1 L800,-0.2"/>
</g>
</svg>
</body></html>
